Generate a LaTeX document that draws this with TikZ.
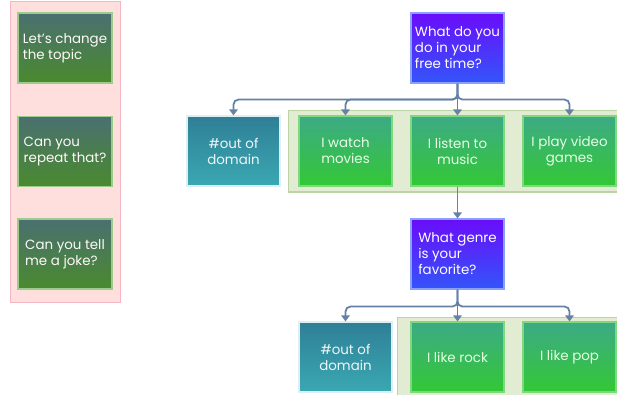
\documentclass[tikz,border=0pt]{standalone}
\usepackage{fontspec}
\setmainfont{Poppins}
\usetikzlibrary{arrows.meta}
\definecolor{arrc}{HTML}{6582A6}
\definecolor{qtop}{HTML}{6A0DFA}
\definecolor{qbot}{HTML}{3355FA}
\definecolor{qbrd}{HTML}{8AA0FF}
\definecolor{otop}{HTML}{2F7F96}
\definecolor{obot}{HTML}{3AA8B2}
\definecolor{obrd}{HTML}{DDEFF2}
\definecolor{atop}{HTML}{3DAA85}
\definecolor{abot}{HTML}{33C835}
\definecolor{abrd}{HTML}{7ED87E}
\definecolor{ltop}{HTML}{4A7070}
\definecolor{lbot}{HTML}{4A8A2E}
\definecolor{lbrd}{HTML}{9CCB8C}
\definecolor{pinkf}{HTML}{FFDEDE}
\definecolor{pinkd}{HTML}{F2B8C6}
\definecolor{grnf}{HTML}{E1ECD2}
\definecolor{grnd}{HTML}{BBD3A5}
\begin{document}
\begin{tikzpicture}[x=1pt,y=-1pt,
  every node/.style={font=\fontsize{13.4}{16}\selectfont},
  box/.style={rectangle,minimum width=93pt,minimum height=70pt,inner sep=1pt,line width=1.1pt},
  qbox/.style={box,top color=qtop,bottom color=qbot,draw=qbrd,text=white,align=left},
  obox/.style={box,top color=otop,bottom color=obot,draw=obrd,text=white!92!obot,align=center},
  abox/.style={box,top color=atop,bottom color=abot,draw=abrd,text=white!90!green,align=center},
  lbox/.style={box,minimum width=94pt,top color=ltop,bottom color=lbot,draw=lbrd,text=white!92!pink,align=left},
  arr/.style={draw=arrc,line width=1.8pt,rounded corners=5pt,-{Triangle[length=6pt,width=8.5pt]}},
  panel/.style={line width=1pt}]
\useasboundingbox (0,0) rectangle (617,395);
% panels
\draw[panel,fill=pinkf,draw=pinkd] (10,2) rectangle (120,302);
\draw[panel,fill=grnf,draw=grnd] (288,111) rectangle (630,192);
\draw[panel,fill=grnf,draw=grnd] (397,317) rectangle (630,405);
% left panel boxes
\node[lbox] (l1) at (65,48) {Let's change\\the topic};
\node[lbox] (l2) at (65,151.5) {Can you\\repeat that?};
\node[lbox] (l3) at (65,254) {Can you tell\\me a joke?};
% tree
\node[qbox] (q1) at (457.5,48) {What do you\\do in your\\free time?};
\node[obox] (o1) at (233.5,151) {\#out of\\domain};
\node[abox] (a1) at (345.5,151) {I watch\\movies};
\node[abox] (a2) at (457.5,151) {I listen to\\music};
\node[abox] (a3) at (569.5,151) {I play video\\games};
\node[qbox] (q2) at (457.5,254) {What genre\\is your\\favorite?};
\node[obox] (o2) at (345.5,357) {\#out of\\domain};
\node[abox] (r1) at (457.5,357) {I like rock};
\node[abox] (r2) at (569.5,357) {I like pop};
% connectors
\foreach \c in {o1,a1,a2,a3}{\draw[arr] (q1.south) -- ++(0,16) -| (\c.north);}
\draw[arr] (a2.south) -- (q2.north);
\foreach \c in {o2,r1,r2}{\draw[arr] (q2.south) -- ++(0,17) -| (\c.north);}
\end{tikzpicture}
\end{document}
